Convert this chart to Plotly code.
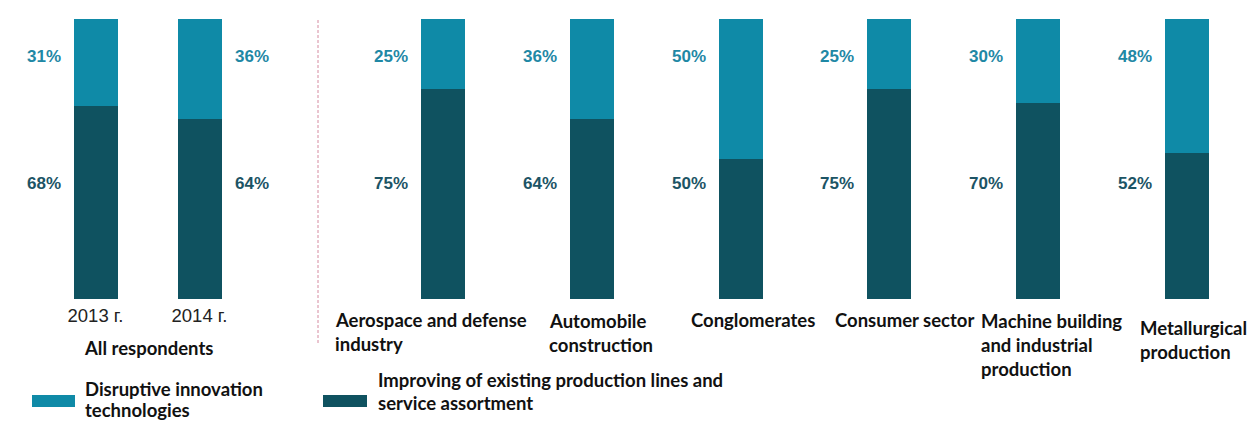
import plotly.graph_objects as go

# ---- data ----
year_labels = ["2013 г.", "2014 г."]
year_disruptive = [31, 36]
year_improving = [68, 64]

sector_labels = [
    "Aerospace and defense\nindustry",
    "Automobile\nconstruction",
    "Conglomerates",
    "Consumer sector",
    "Machine building\nand industrial\nproduction",
    "Metallurgical\nproduction",
]
sector_disruptive = [25, 36, 50, 25, 30, 48]
sector_improving = [75, 64, 50, 75, 70, 52]

series_names = ["Disruptive innovation\ntechnologies",
                "Improving of existing production lines and\nservice assortment"]
group_title = "All respondents"

# ---- styling ----
W, H = 1260, 421
TEAL = "#0f8aa7"
DARK = "#0f5260"
TEAL_TXT = "#1f88a5"
DARK_TXT = "#1c5465"
PCT_FONT = "Liberation Sans Narrow, Liberation Sans, Arial"
LBL_FONT = "Lato, Open Sans, sans-serif"
LBL_SIZE = 18.5


def px_x(p):
    return p / W


def px_y(p):
    return 1 - p / H


split_px = 330
left_dom = [0, px_x(split_px)]
right_dom = [px_x(split_px), 1]
left_step, right_step = 104.0, 148.8
left_first, right_first = 95.5, 443.0
left_r0 = -left_first / left_step
left_r1 = left_r0 + split_px / left_step
right_r0 = -(right_first - split_px) / right_step
right_r1 = right_r0 + (W - split_px) / right_step
bar_px = 44

fig = go.Figure()

groups = [
    ("x", year_labels, year_improving, year_disruptive, bar_px / left_step),
    ("x2", sector_labels, sector_improving, sector_disruptive, bar_px / right_step),
]
for xa, cats, imp, dis, w in groups:
    idx = list(range(len(cats)))
    fig.add_trace(go.Bar(x=idx, y=imp, width=w, marker_color=DARK,
                         marker_line_width=0, xaxis=xa, yaxis="y",
                         showlegend=False))
    fig.add_trace(go.Bar(x=idx, y=dis, width=w, marker_color=TEAL,
                         marker_line_width=0, xaxis=xa, yaxis="y",
                         showlegend=False))

fig.update_layout(
    width=W, height=H,
    margin=dict(l=0, r=0, t=0, b=0),
    paper_bgcolor="white", plot_bgcolor="white",
    barmode="stack", barnorm="percent",
    xaxis=dict(domain=left_dom, range=[left_r0, left_r1],
               tickvals=[0, 1], ticktext=year_labels,
               showgrid=False, zeroline=False, showline=False, ticks="",
               ticklabelstandoff=3,
               tickfont=dict(family="Liberation Sans, Arial", size=18.5, color="#222222")),
    xaxis2=dict(domain=right_dom, range=[right_r0, right_r1], anchor="y",
                showticklabels=False, showgrid=False, zeroline=False, showline=False),
    yaxis=dict(domain=[px_y(299), px_y(18.5)], range=[0, 100],
               visible=False, showgrid=False, zeroline=False),
    showlegend=False,
)

annotations = []
# percentage labels beside each bar
label_gap = 11
year_sides = ["left", "right"]
for i, (d, m) in enumerate(zip(year_disruptive, year_improving)):
    side = year_sides[i]
    shift = (bar_px / 2 + label_gap) * (-1 if side == "left" else 1)
    anchor = "right" if side == "left" else "left"
    for val, ypx, col in [(d, 56, TEAL_TXT), (m, 183, DARK_TXT)]:
        annotations.append(dict(x=i, xref="x", y=px_y(ypx), yref="paper",
                                text=f"{val}%", showarrow=False, xanchor=anchor,
                                yanchor="middle", xshift=shift,
                                font=dict(family=PCT_FONT, size=17, color=col, weight="bold")))
for i, (d, m) in enumerate(zip(sector_disruptive, sector_improving)):
    for val, ypx, col in [(d, 56, TEAL_TXT), (m, 183, DARK_TXT)]:
        annotations.append(dict(x=i, xref="x2", y=px_y(ypx), yref="paper",
                                text=f"{val}%", showarrow=False, xanchor="right",
                                yanchor="middle", xshift=-(bar_px / 2 + label_gap),
                                font=dict(family=PCT_FONT, size=17, color=col, weight="bold")))

# sector names under the bars, one annotation per line
sector_text_x = [333, 547, 689, 833, 979, 1138]
sector_text_top = [320, 321, 320, 320, 321, 328]
line_h = 24
for i, lbl in enumerate(sector_labels):
    for k, line in enumerate(lbl.split("\n")):
        annotations.append(dict(x=px_x(sector_text_x[i]), xref="paper",
                                y=px_y(sector_text_top[i] + k * line_h), yref="paper",
                                text=line, showarrow=False, xanchor="left", yanchor="middle",
                                font=dict(family=LBL_FONT, size=LBL_SIZE, color="#111111", weight="bold")))

annotations.append(dict(x=px_x(82), xref="paper", y=px_y(348), yref="paper",
                        text=group_title, showarrow=False, xanchor="left", yanchor="middle",
                        font=dict(family=LBL_FONT, size=LBL_SIZE, color="#111111", weight="bold")))

# legend: swatches and wrapped names
legend_items = [
    (TEAL, 32, 75, 83, 389, 21),
    (DARK, 323, 367, 376, 380, 23),
]
shapes = []
for (col, sx0, sx1, tx, ty, lh), name in zip(legend_items, series_names):
    shapes.append(dict(type="rect", xref="paper", yref="paper",
                       x0=px_x(sx0), x1=px_x(sx1), y0=px_y(407), y1=px_y(395),
                       fillcolor=col, line_width=0))
    for k, line in enumerate(name.split("\n")):
        annotations.append(dict(x=px_x(tx), xref="paper", y=px_y(ty + k * lh), yref="paper",
                                text=line, showarrow=False, xanchor="left", yanchor="middle",
                                font=dict(family=LBL_FONT, size=LBL_SIZE, color="#111111", weight="bold")))

# dashed separator between the overall and sector groups
shapes.append(dict(type="line", xref="paper", yref="paper",
                   x0=px_x(318), x1=px_x(318), y0=px_y(343), y1=px_y(18),
                   line=dict(color="#d58aa0", width=1, dash="3px,2px")))

fig.update_layout(annotations=annotations, shapes=shapes)

fig.write_html("out.html")
